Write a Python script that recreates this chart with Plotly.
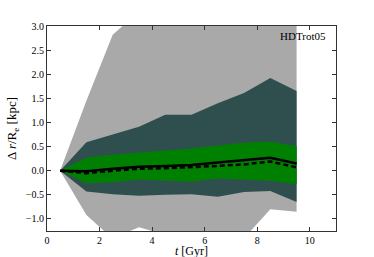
import plotly.graph_objects as go

t = [0.5, 1.5, 2.5, 3.5, 4.5, 5.5, 6.5, 7.5, 8.5, 9.5]

outer_hi = [0.0, 1.45, 2.82, 3.3, 3.6, 3.9, 4.1, 4.3, 4.5, 4.6]
outer_lo = [0.0, -0.92, -1.41, -1.17, -1.33, -1.45, -1.5, -1.4, -0.80, -0.85]

mid_hi = [0.0, 0.59, 0.75, 0.91, 1.16, 1.16, 1.40, 1.61, 1.92, 1.65]
mid_lo = [0.0, -0.43, -0.49, -0.52, -0.50, -0.49, -0.54, -0.44, -0.42, -0.65]

inner_hi = [0.0, 0.27, 0.33, 0.37, 0.42, 0.46, 0.52, 0.58, 0.60, 0.51]
inner_lo = [0.0, -0.26, -0.24, -0.18, -0.21, -0.23, -0.16, -0.19, -0.21, -0.28]

median = [0.0, -0.01, 0.04, 0.08, 0.10, 0.12, 0.17, 0.22, 0.27, 0.15]
mean = [0.0, -0.05, 0.0, 0.04, 0.05, 0.07, 0.10, 0.13, 0.19, 0.07]

x_ticks = [0, 2, 4, 6, 8, 10]
y_ticks = [-1.0, -0.5, 0.0, 0.5, 1.0, 1.5, 2.0, 2.5, 3.0]

fig = go.Figure()

def band(hi, lo, color):
    fig.add_trace(go.Scatter(x=t, y=hi, mode="lines", line=dict(width=0, color=color),
                             showlegend=False, hoverinfo="skip"))
    fig.add_trace(go.Scatter(x=t, y=lo, mode="lines", line=dict(width=0, color=color),
                             fill="tonexty", fillcolor=color, showlegend=False, hoverinfo="skip"))

band(outer_hi, outer_lo, "#A9A9A9")
band(mid_hi, mid_lo, "#2F4F4F")
band(inner_hi, inner_lo, "#008000")

fig.add_trace(go.Scatter(x=t, y=median, mode="lines", line=dict(color="black", width=2.5),
                         showlegend=False))
fig.add_trace(go.Scatter(x=t, y=mean, mode="lines", line=dict(color="black", width=2.5, dash="5px,3px"),
                         showlegend=False))

fig.add_annotation(x=0.972, y=0.951, xref="paper", yref="paper", text="HDTrot05",
                   showarrow=False, xanchor="right", yanchor="middle",
                   font=dict(size=11, color="black", family="Liberation Serif"))

# x-axis title placed as an annotation below the tick labels
fig.add_annotation(x=0.5, y=-0.098, xref="paper", yref="paper", text="<i>t</i> [Gyr]",
                   showarrow=False, xanchor="center", yanchor="middle",
                   font=dict(size=12, color="black", family="Liberation Serif"))

axis_common = dict(showgrid=False, zeroline=False, showline=True, linecolor="#333333",
                   linewidth=1, mirror="ticks", ticks="inside", ticklen=4, tickcolor="#333333",
                   automargin=False,
                   tickfont=dict(size=10, color="black", family="Liberation Serif"))

fig.update_xaxes(range=[0, 11], tickvals=x_ticks, ticktext=[str(v) for v in x_ticks],
                 **axis_common)
fig.update_yaxes(range=[-1.25, 3.0], tickvals=y_ticks, tickformat=".1f",
                 title=dict(text="Δ <i>r</i>/R<sub>e</sub> [kpc]", standoff=6,
                            font=dict(size=13, color="black", family="Liberation Serif")),
                 **axis_common)

fig.update_layout(width=374, height=257, margin=dict(l=47, r=38, t=26, b=26),
                  plot_bgcolor="white", paper_bgcolor="white")

fig.write_html("out.html", config={"displayModeBar": False},
               post_script="document.body.style.margin='0';document.body.style.overflow='hidden';")
